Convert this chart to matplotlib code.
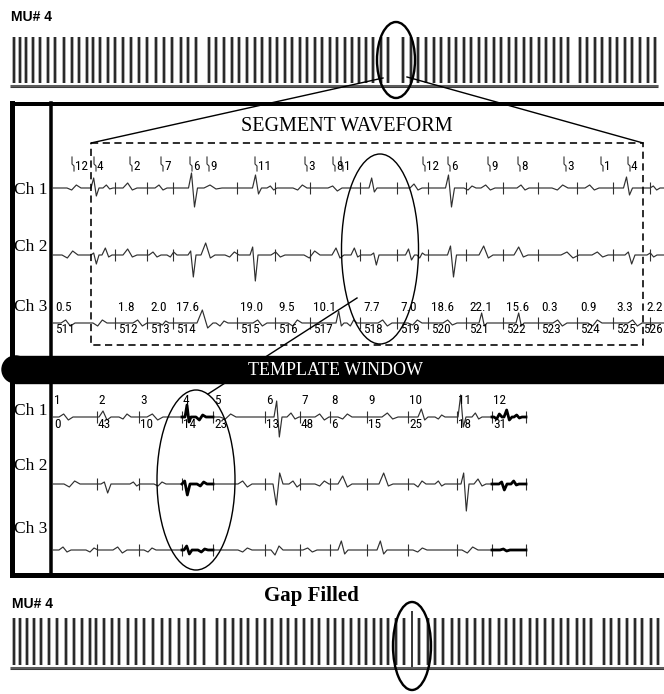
import numpy as np
import matplotlib
matplotlib.use("Agg")
import matplotlib.pyplot as plt
from matplotlib import font_manager
from matplotlib.patches import Ellipse, Rectangle, Circle

W, H = 664, 694

# ----------------------------------------------------------------------
# Data
# ----------------------------------------------------------------------

# MU#4 firing times (sample positions along the record)
train_spikes = [14, 20, 26, 33, 40, 48, 55, 64, 72, 79, 87, 93, 100, 108, 115,
                123, 131, 139, 147, 156, 164, 172, 181, 188, 196, 209, 216, 224,
                232, 239, 247, 255, 262, 270, 277, 285, 292, 300, 307, 315, 322,
                330, 337, 345, 352, 359, 366, 373, 381, 388, 403, 411, 418, 426,
                434, 441, 449, 456, 464, 471, 479, 486, 494, 501, 509, 516, 524,
                531, 539, 546, 554, 561, 568, 580, 587, 595, 602, 610, 617, 625,
                632, 640, 648, 655]
gap_fill_spike = 395.5

# segment waveform: segment boundaries, segment ids, values above Ch 3
seg_bounds = [52, 115, 147, 173, 237, 275, 310, 360, 397, 428, 466, 503, 538,
              577, 613, 650]
seg_ids = ["511", "512", "513", "514", "515", "516", "517", "518", "519",
           "520", "521", "522", "523", "524", "525", "526"]
seg_values = ["0.5", "1.8", "2.0", "17.6", "19.0", "9.5", "10.1", "7.7", "7.0",
              "18.6", "22.1", "15.6", "0.3", "0.9", "3.3", "2.2"]

# unit labels flagged above Ch 1
seg_unit_x = [72, 94, 130, 161, 190, 207, 255, 305, 333, 341, 423, 448, 488,
              518, 564, 601, 628]
seg_unit_ids = ["12", "4", "2", "7", "6", "9", "11", "3", "8", "1", "12", "6",
                "9", "8", "3", "1", "4"]

# waveform events: (position, first lobe, second lobe, width)
seg_ch1 = [(74, -2, 3, 14), (95, 10, -8, 8), (108, 3, -1, 10), (130, 5, -2, 14),
           (161, 3, -2, 12), (193, 15, -19, 9), (213, 3, -1, 18),
           (257, 13, -6, 9), (272, 2, -2, 10), (300, -2, 3, 14),
           (335, 2, -3, 14), (373, 10, -4, 8), (416, 4, -2, 12),
           (450, 13, -19, 9), (470, -2, 2, 12), (488, 3, -2, 14),
           (523, 3, -2, 12), (560, -2, 3, 16), (592, 3, -2, 14),
           (628, 11, -7, 9), (655, 2, -2, 10)]
seg_ch2 = [(70, -3, 4, 16), (95, 2, -9, 8), (107, 7, -2, 10), (130, 6, -2, 14),
           (155, 3, -2, 12), (172, -2, 3, 10), (192, 4, -22, 8),
           (208, 12, -3, 14), (232, -2, 3, 14), (254, 8, -26, 8),
           (278, 3, -2, 14), (312, -3, 4, 16), (338, 7, -3, 12),
           (356, 7, -2, 10), (375, 2, -10, 8), (410, 6, -5, 9),
           (421, -3, 2, 8), (452, 9, -22, 9), (486, 9, -3, 14),
           (521, 8, -2, 14), (570, 3, -3, 18), (600, 3, -2, 16),
           (630, 3, -9, 10), (652, 2, -2, 10)]
seg_ch3 = [(68, 3, -3, 14), (100, -3, 3, 14), (140, 3, -3, 14), (164, -2, 2, 10),
           (205, 13, -5, 16), (222, -3, 2, 12), (260, 3, -3, 14),
           (295, -3, 3, 14), (340, 12, -3, 8), (352, -3, 3, 10),
           (385, 3, -3, 14), (415, -2, 3, 14), (450, 3, -2, 14),
           (483, 10, -3, 8), (520, 10, -3, 8), (560, 3, -3, 14),
           (595, -3, 3, 14), (635, 3, -3, 14)]

# template window: template boundaries, unit ids and match counts
tmpl_marks = [53, 97, 139, 182, 213, 265, 300, 330, 367, 408, 457, 492]
tmpl_end = 526
tmpl_ids = ["1", "2", "3", "4", "5", "6", "7", "8", "9", "10", "11", "12"]
tmpl_counts = ["0", "43", "10", "14", "23", "13", "48", "6", "15", "25", "18",
               "31"]
tmpl_bold = [(182, 213), (492, 526)]

tmpl_ch1 = [(66, 3, -3, 14), (105, 6, -3, 12), (125, -2, 3, 12), (155, 3, -3, 16),
            (188, 12, -5, 6), (201, -3, 2, 10), (228, -2, 3, 16),
            (278, 16, -20, 8), (293, 4, -2, 12), (322, 3, -3, 14),
            (345, -2, 3, 14), (390, 4, -2, 16), (423, 8, -3, 10),
            (440, -2, 2, 10), (462, 22, -10, 8), (477, 4, -2, 10),
            (498, -2, 3, 8), (508, 7, -3, 8), (518, 2, -1, 8)]
tmpl_ch2 = [(72, -3, 3, 16), (106, 2, -9, 10), (135, 2, -2, 10), (160, -2, 2, 12),
            (186, 3, -11, 8), (202, -2, 2, 10), (245, 3, -3, 14),
            (278, -21, 11, 10), (295, 3, -3, 12), (322, -2, 3, 14),
            (345, 8, -3, 14), (386, 11, -2, 14), (420, -3, 3, 12),
            (440, 3, -2, 10), (465, 11, -27, 8), (480, 5, -2, 12),
            (503, 2, -6, 8), (515, 3, -1, 8)]
tmpl_ch3 = [(65, 3, -2, 12), (92, -2, 2, 12), (120, 3, -3, 14), (150, -2, 2, 12),
            (188, 4, -4, 8), (203, -2, 1, 10), (245, -2, 2, 14),
            (277, -5, 4, 12), (310, 2, -2, 14), (343, 9, -4, 10),
            (382, 9, -4, 10), (420, -2, 2, 14), (470, -3, 3, 16),
            (505, 1, -1, 10)]


# ----------------------------------------------------------------------
# Helpers
# ----------------------------------------------------------------------

def pick_font(names):
    for name in names:
        try:
            font_manager.findfont(font_manager.FontProperties(family=name),
                                  fallback_to_default=False)
            return name
        except ValueError:
            continue
    return "DejaVu Sans"


SERIF = pick_font(["Liberation Serif", "DejaVu Serif"])
SANS = pick_font(["Liberation Sans", "DejaVu Sans"])
NARROW = pick_font(["Liberation Sans Narrow", "Roboto Condensed", "DejaVu Sans"])
NUM_SIZE = 9.5 if NARROW != "DejaVu Sans" else 7.2


def pw(px):
    """pixel width -> points (dpi 100)"""
    return px * 0.72


def px_axes(fig, x0, y0, x1, y1):
    return fig.add_axes([x0 / W, 1 - y1 / H, (x1 - x0) / W, (y1 - y0) / H])


def trace(events, x0, x1):
    xs, ys = [x0], [0.0]
    for x, a1, a2, w in sorted(events):
        xs += [x - w / 2, x - w / 6, x + w / 6, x + w / 2]
        ys += [0, a1, a2, 0]
    xs.append(x1)
    ys.append(0.0)
    return np.array(xs, float), np.array(ys, float)


def draw_channel(ax, events, base, x0, x1, bold=()):
    xs, ys = trace(events, x0, x1)
    ax.plot(xs, base - ys, color="#303030", lw=0.85, zorder=3)
    for a, b in bold:
        m = (xs >= a) & (xs <= b)
        bx = np.concatenate([[a], xs[m], [b]])
        by = np.concatenate([[0], ys[m], [0]])
        ax.plot(bx, base - by, color="black", lw=2.0, zorder=4,
                solid_joinstyle="round")


def draw_train(ax, spikes):
    ax.vlines(spikes, 0.08, 1.0, color="#9c9c9c", lw=pw(3.6))
    ax.vlines(spikes, 0.08, 1.0, color="#2a2a2a", lw=pw(2.0))


def seg_label(ax, x, y, s, last):
    # the final label sits against the right edge
    if last:
        ax.text(W - 1, y, s, family=NARROW, fontsize=NUM_SIZE, ha="right",
                va="center")
    else:
        ax.text(x + 3, y, s, family=NARROW, fontsize=NUM_SIZE, ha="left",
                va="center")


# ----------------------------------------------------------------------
# Figure
# ----------------------------------------------------------------------

fig = plt.figure(figsize=(W / 100, H / 100), dpi=100)
fig.patch.set_facecolor("white")

ax = fig.add_axes([0, 0, 1, 1])
ax.set_xlim(0, W)
ax.set_ylim(H, 0)
ax.axis("off")
ax.set_zorder(5)
ax.patch.set_visible(False)

# --- spike trains ---
ax_top = px_axes(fig, 0, 37, W, 87)
ax_top.set_xlim(0, W)
ax_top.set_ylim(0, 1)
ax_top.axis("off")
draw_train(ax_top, train_spikes)
ax_top.hlines(0.03, 10, 658, color="#3a3a3a", lw=2.2, clip_on=False)
ax_top.hlines(0.03, 10, 658, color="#c8c8c8", lw=0.35, clip_on=False)

ax_bot = px_axes(fig, 0, 618, W, 669)
ax_bot.set_xlim(0.52, 637.8)
ax_bot.set_ylim(0, 1)
ax_bot.axis("off")
draw_train(ax_bot, train_spikes)
ax_bot.vlines([gap_fill_spike], 0.02, 1.14, color="black", lw=1.1, clip_on=False)
ax_bot.hlines(0.02, 10, 640, color="#3a3a3a", lw=2.2, clip_on=False)
ax_bot.hlines(0.02, 10, 640, color="#c8c8c8", lw=0.35, clip_on=False)

ax.text(11, 17, "MU# 4", family=SANS, weight="bold", fontsize=10,
        ha="left", va="center")
ax.text(12, 604, "MU# 4", family=SANS, weight="bold", fontsize=10,
        ha="left", va="center")
ax.text(311, 596, "Gap Filled", family=SERIF, weight="bold", fontsize=15,
        ha="center", va="center")

ax.add_patch(Ellipse((396, 60), 38, 76, fill=False, lw=pw(2.4), ec="black"))
ax.add_patch(Ellipse((412, 646), 38, 88, fill=False, lw=pw(2.4), ec="black"))

# leader lines into the segment window
ax.plot([383, 91], [78, 143], color="black", lw=pw(1.4))
ax.plot([407, 643], [77, 143], color="black", lw=pw(1.4))

# --- main frame ---
ax.plot([12, 12], [103, 575], color="black", lw=pw(5), solid_capstyle="projecting")
ax.plot([12, W + 2], [104, 104], color="black", lw=pw(4))
ax.plot([12, W + 2], [575, 575], color="black", lw=pw(5))
ax.plot([51, 51], [103, 575], color="black", lw=pw(3.5))

# --- segment waveform ---
ax.text(347, 126, "SEGMENT WAVEFORM", family=SERIF, fontsize=14.5,
        ha="center", va="center")
ax.add_patch(Rectangle((91, 143), 552, 202, fill=False, ec="black",
                       lw=pw(1.6), ls=(0, (4.5, 2.8)), zorder=6))

seg_base = [188, 255, 323]
seg_lbl_y = [190, 247, 307]
for i, (ev, base) in enumerate(zip([seg_ch1, seg_ch2, seg_ch3], seg_base)):
    draw_channel(ax, ev, base, 53, W + 2)
    ax.vlines(seg_bounds[1:], base - 6, base + 6, color="#303030", lw=0.8)
    ax.text(14, seg_lbl_y[i], f"Ch {i + 1}", family=SERIF, fontsize=12.5,
            ha="left", va="center")

for x, s in zip(seg_unit_x, seg_unit_ids):
    ax.plot([x, x, x + 2, x + 2], [157, 164, 166, 171], color="#303030",
            lw=0.8)
    ax.text(x + 3, 166, s, family=NARROW, fontsize=NUM_SIZE, ha="left",
            va="center")

n_seg = len(seg_bounds)
for k, (x, v, s) in enumerate(zip(seg_bounds, seg_values, seg_ids)):
    seg_label(ax, x, 307, v, k == n_seg - 1)
    seg_label(ax, x, 329, s, k == n_seg - 1)

# highlighted region and link to the template window
ax.add_patch(Ellipse((380, 249), 77, 190, fill=False, lw=pw(1.4), ec="black",
                     zorder=6))
ax.plot([357, 208], [298, 394], color="black", lw=pw(1.4), zorder=2)

# --- template window band ---
ax.add_patch(Rectangle((15, 356), 648, 27, color="black", zorder=7))
ax.add_patch(Circle((15.5, 369.5), 13.5, color="black", zorder=7))
ax.text(335, 370, "TEMPLATE WINDOW", family=SERIF, fontsize=13, color="white",
        ha="center", va="center", zorder=8)

tmpl_base = [417, 484, 550]
tmpl_lbl_y = [411, 466, 529]
for i, (ev, base) in enumerate(zip([tmpl_ch1, tmpl_ch2, tmpl_ch3], tmpl_base)):
    draw_channel(ax, ev, base, 53, tmpl_end, bold=tmpl_bold)
    ax.vlines(tmpl_marks[1:] + [tmpl_end], base - 6, base + 6,
              color="#303030", lw=0.8)
    ax.text(14, tmpl_lbl_y[i], f"Ch {i + 1}", family=SERIF, fontsize=12.5,
            ha="left", va="center")

for x, s, c in zip(tmpl_marks, tmpl_ids, tmpl_counts):
    ax.text(x + 1, 400, s, family=NARROW, fontsize=NUM_SIZE, ha="left",
            va="center")
    ax.text(x + 1, 424, c, family=NARROW, fontsize=NUM_SIZE, ha="left",
            va="center")

ax.add_patch(Ellipse((196, 480), 78, 180, fill=False, lw=pw(1.4), ec="black",
                     zorder=6))

fig.savefig("out.png", dpi=100)
